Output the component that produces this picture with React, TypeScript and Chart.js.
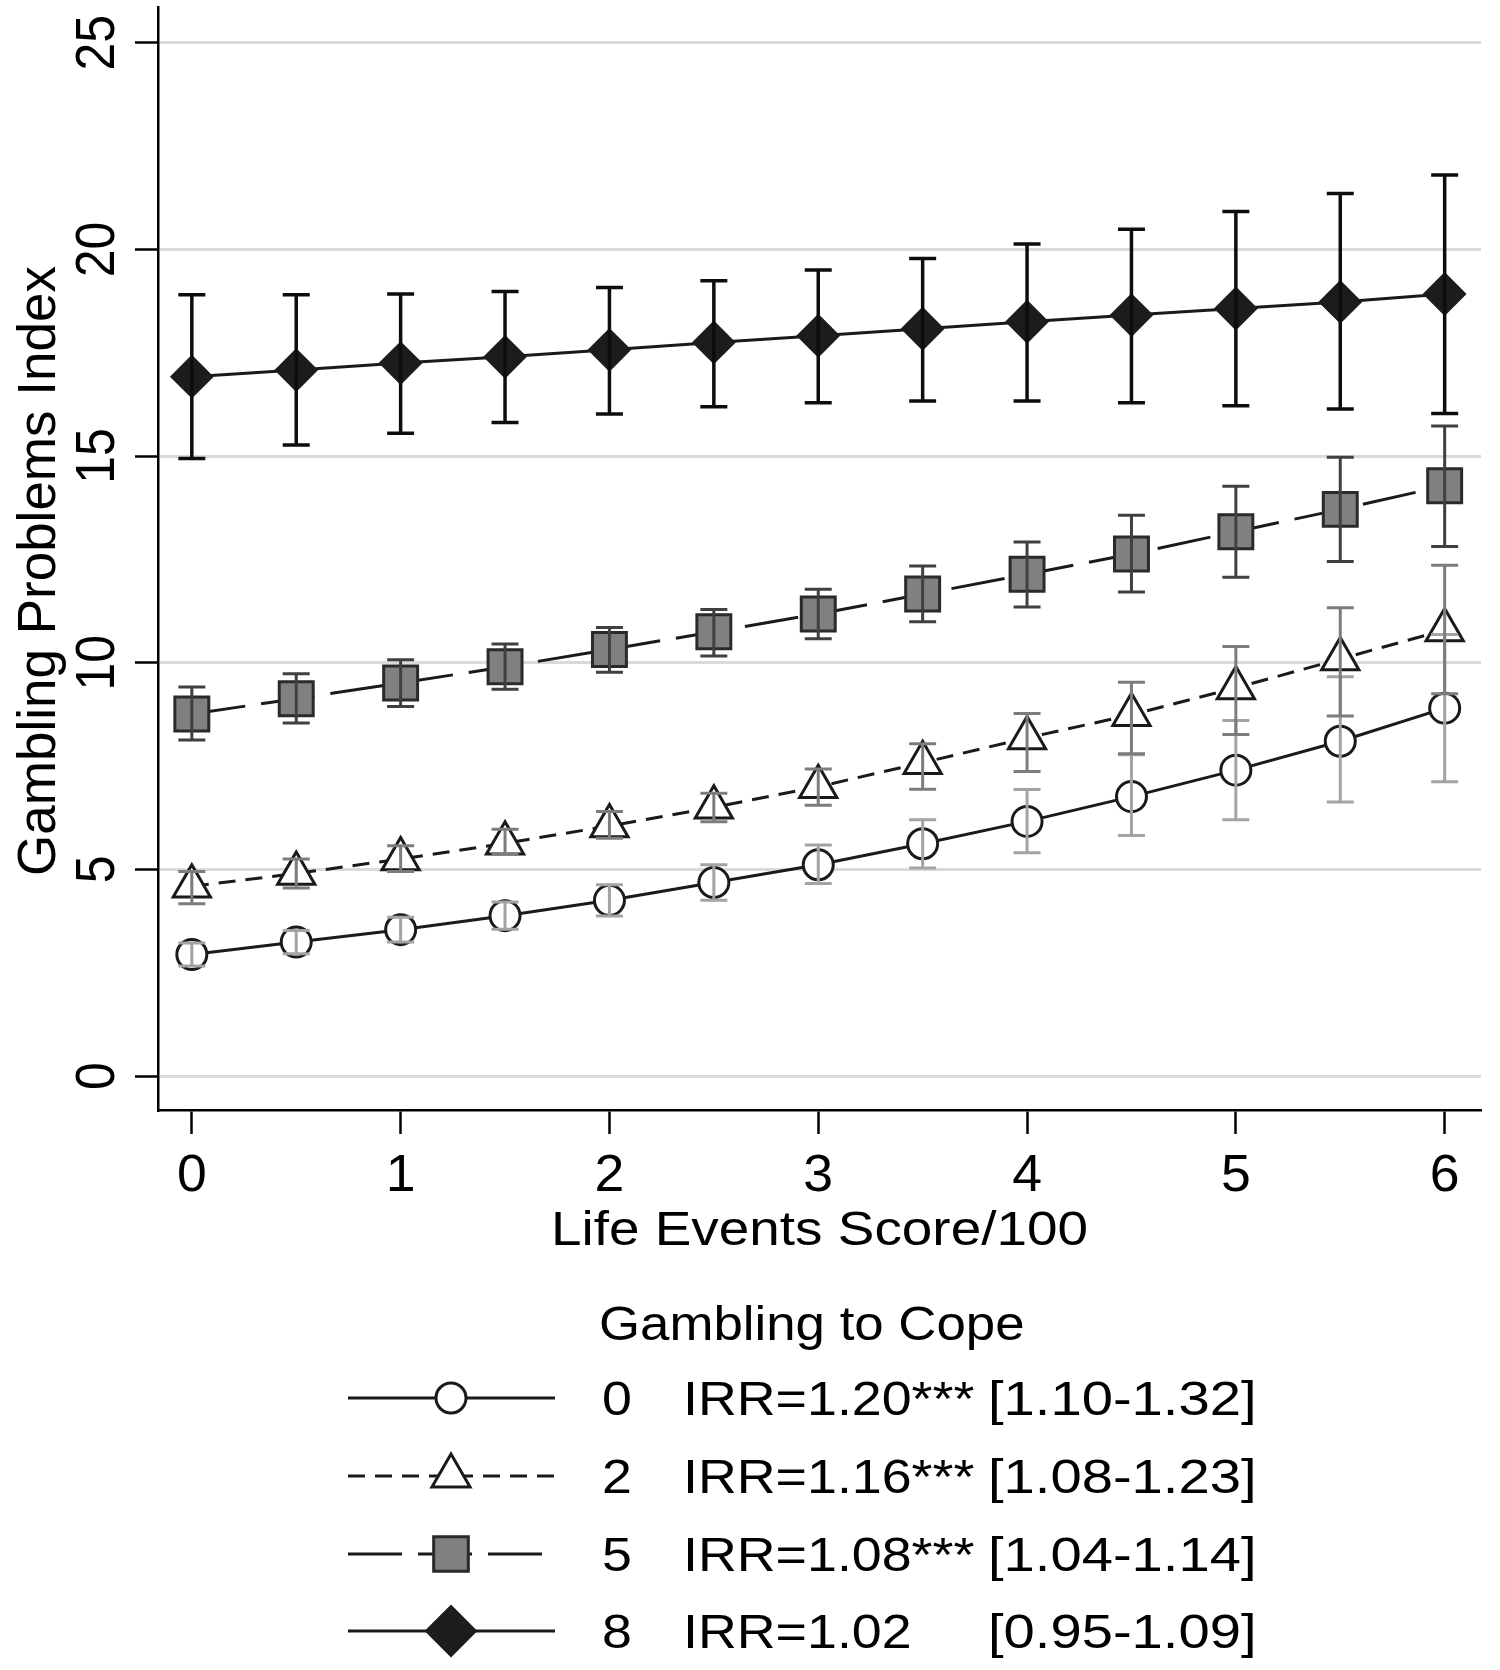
import React, { useEffect, useRef } from "react";
import { Chart, registerables } from "chart.js";

Chart.register(...registerables);

// ---------- data ----------
const lifeEvents = [0, 0.5, 1, 1.5, 2, 2.5, 3, 3.5, 4, 4.5, 5, 5.5, 6];

const cope0Mean = [2.94, 3.24, 3.54, 3.88, 4.25, 4.68, 5.11, 5.62, 6.16, 6.76, 7.4, 8.1, 8.9];
const cope0Low = [2.66, 2.96, 3.24, 3.55, 3.87, 4.25, 4.66, 5.03, 5.4, 5.82, 6.2, 6.63, 7.12];
const cope0High = [3.22, 3.52, 3.84, 4.21, 4.63, 5.11, 5.59, 6.2, 6.93, 7.77, 8.6, 9.66, 10.68];

const cope2Mean = [4.59, 4.9, 5.25, 5.63, 6.05, 6.5, 7.0, 7.58, 8.18, 8.74, 9.39, 10.09, 10.79];
const cope2Low = [4.17, 4.55, 4.95, 5.37, 5.75, 6.15, 6.55, 6.94, 7.37, 7.8, 8.26, 8.71, 9.25];
const cope2High = [4.95, 5.25, 5.57, 5.97, 6.4, 6.84, 7.43, 8.04, 8.77, 9.53, 10.39, 11.33, 12.36];

const cope5Mean = [8.76, 9.13, 9.51, 9.9, 10.32, 10.75, 11.18, 11.66, 12.14, 12.63, 13.17, 13.71, 14.28];
const cope5Low = [8.13, 8.54, 8.94, 9.36, 9.77, 10.16, 10.58, 10.99, 11.35, 11.71, 12.07, 12.45, 12.81];
const cope5High = [9.41, 9.73, 10.07, 10.45, 10.85, 11.29, 11.78, 12.34, 12.92, 13.57, 14.27, 14.97, 15.73];

const cope8Mean = [16.92, 17.08, 17.25, 17.4, 17.57, 17.75, 17.91, 18.08, 18.25, 18.41, 18.57, 18.73, 18.92];
const cope8Low = [14.94, 15.27, 15.55, 15.81, 16.02, 16.19, 16.29, 16.33, 16.33, 16.29, 16.22, 16.14, 16.03];
const cope8High = [18.9, 18.9, 18.92, 18.98, 19.08, 19.24, 19.5, 19.78, 20.13, 20.49, 20.92, 21.35, 21.8];

const xTickValues = [0, 1, 2, 3, 4, 5, 6];
const xTickLabels = ["0", "1", "2", "3", "4", "5", "6"];
const yTickValues = [0, 5, 10, 15, 20, 25];
const yTickLabels = ["0", "5", "10", "15", "20", "25"];

const xTitle = "Life Events Score/100";
const yTitle = "Gambling Problems Index";
const legendTitle = "Gambling to Cope";
const copeLevels = ["0", "2", "5", "8"];
const irrLabels = ["IRR=1.20***", "IRR=1.16***", "IRR=1.08***", "IRR=1.02"];
const ciLabels = ["[1.10-1.32]", "[1.08-1.23]", "[1.04-1.14]", "[0.95-1.09]"];

// ---------- styles ----------
const FONT = '"Liberation Sans", Arial, Helvetica, sans-serif';
const LINE = "#1a1a1a";

type Series = {
  mean: number[];
  low: number[];
  high: number[];
  marker: string;
  radius: number;
  legendRadius: number;
  fill: string;
  stroke: string;
  pbw: number;
  dash: number[];
  errColor: string;
  errWidth: number;
};

const series: Series[] = [
  { mean: cope0Mean, low: cope0Low, high: cope0High, marker: "circle", radius: 15, legendRadius: 15, fill: "#ffffff", stroke: "#1a1a1a", pbw: 3, dash: [], errColor: "#a3a3a3", errWidth: 3 },
  { mean: cope2Mean, low: cope2Low, high: cope2High, marker: "triangle", radius: 21.5, legendRadius: 22, fill: "#ffffff", stroke: "#1a1a1a", pbw: 3, dash: [17, 10], errColor: "#7c7c7c", errWidth: 3 },
  { mean: cope5Mean, low: cope5Low, high: cope5High, marker: "rect", radius: 24, legendRadius: 24.5, fill: "#808080", stroke: "#2a2a2a", pbw: 3, dash: [54, 16], errColor: "#404040", errWidth: 3 },
  { mean: cope8Mean, low: cope8Low, high: cope8High, marker: "rectRot", radius: 20.5, legendRadius: 25, fill: "#1c1c1c", stroke: "#1c1c1c", pbw: 2, dash: [], errColor: "#0d0d0d", errWidth: 3.5 },
];

const CAP = 13.5;

function drawMarker(ctx: CanvasRenderingContext2D, s: Series, x: number, y: number, r: number) {
  ctx.save();
  ctx.setLineDash([]);
  ctx.fillStyle = s.fill;
  ctx.strokeStyle = s.stroke;
  ctx.lineWidth = s.pbw;
  ctx.beginPath();
  if (s.marker === "circle") {
    ctx.arc(x, y, r, 0, Math.PI * 2);
  } else if (s.marker === "triangle") {
    ctx.moveTo(x, y - r);
    ctx.lineTo(x + 0.866 * r, y + 0.5 * r);
    ctx.lineTo(x - 0.866 * r, y + 0.5 * r);
    ctx.closePath();
  } else if (s.marker === "rect") {
    const h = r * Math.SQRT1_2;
    ctx.rect(x - h, y - h, 2 * h, 2 * h);
  } else {
    ctx.moveTo(x - r, y);
    ctx.lineTo(x, y - r);
    ctx.lineTo(x + r, y);
    ctx.lineTo(x, y + r);
    ctx.closePath();
  }
  ctx.fill();
  ctx.stroke();
  ctx.restore();
}

function textH(ctx: CanvasRenderingContext2D, s: string, x: number, y: number, size: number, align: CanvasTextAlign, sx: number) {
  ctx.save();
  ctx.translate(x, y);
  ctx.scale(sx, 1);
  ctx.font = `${size}px ${FONT}`;
  ctx.fillStyle = "#000";
  ctx.textAlign = align;
  ctx.textBaseline = "alphabetic";
  ctx.fillText(s, 0, 0);
  ctx.restore();
}

// rotated text, centred at (cx, cy); sx stretches the glyph height horizontally
function textV(ctx: CanvasRenderingContext2D, s: string, cx: number, cy: number, size: number, sx: number) {
  ctx.save();
  ctx.translate(cx + 0.358 * size * sx, cy);
  ctx.scale(sx, 1);
  ctx.rotate(-Math.PI / 2);
  ctx.font = `${size}px ${FONT}`;
  ctx.fillStyle = "#000";
  ctx.textAlign = "center";
  ctx.textBaseline = "alphabetic";
  ctx.fillText(s, 0, 0);
  ctx.restore();
}

const errorBarPlugin = {
  id: "errorBars",
  afterDatasetsDraw(chart: any) {
    const ctx: CanvasRenderingContext2D = chart.ctx;
    const xs = chart.scales.x;
    const ys = chart.scales.y;
    series.forEach((s) => {
      ctx.save();
      ctx.strokeStyle = s.errColor;
      ctx.lineWidth = s.errWidth;
      ctx.lineCap = "butt";
      lifeEvents.forEach((xv, i) => {
        const px = xs.getPixelForValue(xv);
        const yH = ys.getPixelForValue(s.high[i]);
        const yL = ys.getPixelForValue(s.low[i]);
        ctx.beginPath();
        ctx.moveTo(px, yH);
        ctx.lineTo(px, yL);
        ctx.moveTo(px - CAP, yH);
        ctx.lineTo(px + CAP, yH);
        ctx.moveTo(px - CAP, yL);
        ctx.lineTo(px + CAP, yL);
        ctx.stroke();
      });
      ctx.restore();
    });
  },
};

const textPlugin = {
  id: "texts",
  afterDraw(chart: any) {
    const ctx: CanvasRenderingContext2D = chart.ctx;
    const xs = chart.scales.x;
    const ys = chart.scales.y;
    const area = chart.chartArea;

    // y tick labels (rotated)
    yTickValues.forEach((v, i) => {
      textV(ctx, yTickLabels[i], 94, ys.getPixelForValue(v), 50, 1.1);
    });
    // y title
    textV(ctx, yTitle, 36, 571, 53, 1.0);

    // x tick labels
    xTickValues.forEach((v, i) => {
      textH(ctx, xTickLabels[i], xs.getPixelForValue(v), 1191, 52, "center", 1.03);
    });
    // x title
    textH(ctx, xTitle, (area.left + area.right) / 2, 1245, 49, "center", 1.12);

    // legend
    textH(ctx, legendTitle, 599, 1340, 48, "left", 1.1);
    const rowCenters = [1398, 1476, 1554, 1631];
    series.forEach((s, i) => {
      const cy = rowCenters[i];
      ctx.save();
      ctx.strokeStyle = LINE;
      ctx.lineWidth = 3;
      ctx.setLineDash(s.dash);
      ctx.beginPath();
      ctx.moveTo(348, cy);
      ctx.lineTo(555, cy);
      ctx.stroke();
      ctx.restore();
      drawMarker(ctx, s, 451, cy, s.legendRadius);
      const base = cy + 17;
      textH(ctx, copeLevels[i], 602, base, 48, "left", 1.12);
      textH(ctx, irrLabels[i], 683, base, 48, "left", 1.12);
      textH(ctx, ciLabels[i], 988, base, 48, "left", 1.17);
    });
  },
};

export default function App() {
  const ref = useRef<HTMLCanvasElement | null>(null);

  useEffect(() => {
    if (!ref.current) return;
    const chart = new Chart(ref.current, {
      type: "line",
      data: {
        datasets: series.map((s, idx) => ({
          label: copeLevels[idx],
          data: lifeEvents.map((x, i) => ({ x, y: s.mean[i] })),
          borderColor: LINE,
          borderWidth: 3,
          borderDash: s.dash,
          pointStyle: s.marker as any,
          pointRadius: s.radius,
          pointHoverRadius: s.radius,
          pointBackgroundColor: s.fill,
          pointBorderColor: s.stroke,
          pointBorderWidth: s.pbw,
          fill: false,
          tension: 0,
          clip: false,
        })),
      },
      options: {
        responsive: false,
        animation: false,
        devicePixelRatio: 1,
        events: [],
        layout: { autoPadding: false, padding: { top: 7, right: 19, bottom: 0, left: 0 } },
        plugins: { legend: { display: false }, tooltip: { enabled: false } },
        scales: {
          x: {
            type: "linear",
            min: -0.162,
            max: 6.174,
            afterBuildTicks: (scale: any) => {
              scale.ticks = xTickValues.map((v) => ({ value: v }));
            },
            afterFit: (scale: any) => {
              scale.height = 560;
            },
            ticks: { display: false },
            grid: {
              display: true,
              drawOnChartArea: false,
              drawTicks: true,
              tickLength: 24,
              tickColor: "#000",
              tickWidth: 2.5,
            },
            border: { display: true, color: "#000", width: 2.5 },
          },
          y: {
            type: "linear",
            min: -0.8226,
            max: 25.865,
            afterBuildTicks: (scale: any) => {
              scale.ticks = yTickValues.map((v) => ({ value: v }));
            },
            afterFit: (scale: any) => {
              scale.width = 158;
            },
            ticks: { display: false },
            grid: {
              display: true,
              drawOnChartArea: true,
              color: "#dadada",
              lineWidth: 3,
              drawTicks: true,
              tickLength: 23,
              tickColor: "#000",
              tickWidth: 2.5,
            },
            border: { display: true, color: "#000", width: 2.5 },
          },
        },
      },
      plugins: [errorBarPlugin, textPlugin],
    } as any);
    return () => chart.destroy();
  }, []);

  return (
    <div style={{ position: "absolute", left: 0, top: 0, width: 1500, height: 1670, background: "#fff" }}>
      <canvas ref={ref} width={1500} height={1670} style={{ display: "block", width: 1500, height: 1670 }} />
    </div>
  );
}
